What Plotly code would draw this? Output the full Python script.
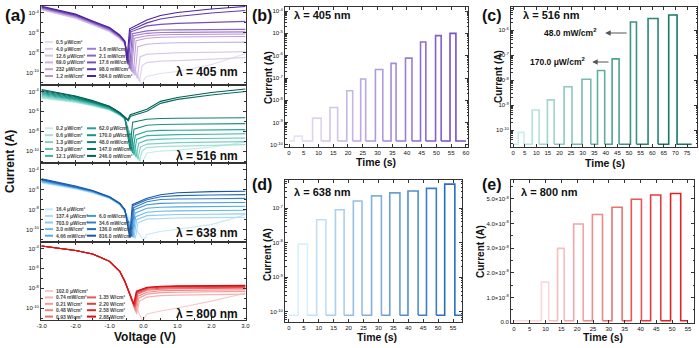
import plotly.graph_objects as go

FONT = "Liberation Sans, Arial, sans-serif"
W, H = 699, 348

# ================= DATA =================
# Panel (a): I-V curves, values are log10(|I| / A)
V_LEFT = [-3.0, -2.0, -1.5, -1.0, -0.7, -0.55]
V_RIGHT = [0.1, 0.5, 1.0, 2.0, 3.0]

labels_405 = ["0.5 μW/cm²", "4.0 μW/cm²", "12.6 μW/cm²", "69.0 μW/cm²", "232 μW/cm²", "1.2 mW/cm²",
              "1.6 mW/cm²", "2.1 mW/cm²", "17.6 mW/cm²", "98.0 mW/cm²", "584.0 mW/cm²"]
left_405 = [[-3.70, -4.55, -5.20, -5.90, -6.60, -7.15],
            [-3.68, -4.52, -5.18, -5.88, -6.58, -7.12],
            [-3.66, -4.50, -5.15, -5.85, -6.55, -7.10],
            [-3.62, -4.45, -5.10, -5.80, -6.50, -7.05],
            [-3.55, -4.38, -5.05, -5.72, -6.45, -7.00],
            [-3.52, -4.35, -5.02, -5.70, -6.42, -6.98],
            [-3.50, -4.32, -5.00, -5.68, -6.40, -6.96],
            [-3.48, -4.30, -4.97, -5.65, -6.38, -6.94],
            [-3.42, -4.22, -4.90, -5.58, -6.32, -6.90],
            [-3.38, -4.18, -4.86, -5.52, -6.28, -6.87],
            [-3.33, -4.12, -4.80, -5.47, -6.22, -6.83]]
dipv_405 = [-0.05, -0.12, -0.18, -0.25, -0.30, -0.35, -0.38, -0.41, -0.45, -0.47, -0.49]
dipi_405 = [-11.2, -10.9, -10.6, -10.3, -10.1, -9.9, -9.7, -9.5, -9.2, -9.0, -8.8]
kneev_405 = [0.05, -0.04, -0.10, -0.17, -0.22, -0.27, -0.30, -0.33, -0.37, -0.39, -0.41]
kneei_405 = [-10.5, -9.3, -8.4, -7.4, -6.8, -6.55, -6.3, -6.1, -5.9, -5.75, -5.6]
right_405 = [[-10.4, -10.1, -9.9, -9.2, -8.1],
             [-9.0, -8.85, -8.8, -8.65, -8.5],
             [-8.15, -8.05, -8.0, -7.95, -7.9],
             [-7.15, -7.05, -7.0, -6.97, -6.94],
             [-6.55, -6.45, -6.42, -6.40, -6.37],
             [-6.3, -6.2, -6.17, -6.15, -6.12],
             [-6.05, -5.97, -5.95, -5.92, -5.9],
             [-5.8, -5.72, -5.7, -5.68, -5.65],
             [-5.3, -5.15, -5.05, -4.95, -4.85],
             [-5.0, -4.6, -4.35, -4.0, -3.75],
             [-4.7, -4.25, -3.95, -3.6, -3.35]]

labels_516 = ["0.2 μW/cm²", "0.6 μW/cm²", "1.3 μW/cm²", "3.3 μW/cm²", "12.1 μW/cm²",
              "62.0 μW/cm²", "170.0 μW/cm²", "48.0 mW/cm²", "147.0 mW/cm²", "246.0 mW/cm²"]
left_516 = [[-4.70, -5.10, -5.45, -5.90, -6.40, -6.78],
            [-4.60, -5.05, -5.40, -5.85, -6.38, -6.76],
            [-4.50, -4.98, -5.35, -5.82, -6.35, -6.74],
            [-4.40, -4.90, -5.30, -5.78, -6.32, -6.72],
            [-4.30, -4.82, -5.22, -5.72, -6.30, -6.70],
            [-4.20, -4.75, -5.15, -5.68, -6.27, -6.68],
            [-4.10, -4.68, -5.10, -5.62, -6.24, -6.66],
            [-4.00, -4.60, -5.05, -5.58, -6.20, -6.64],
            [-3.90, -4.52, -4.98, -5.52, -6.16, -6.62],
            [-3.80, -4.45, -4.92, -5.48, -6.12, -6.60]]
dipv_516 = [-0.06, -0.12, -0.17, -0.22, -0.28, -0.32, -0.36, -0.40, -0.45, -0.46]
dipi_516 = [-11.3, -11.0, -10.8, -10.6, -10.4, -10.2, -10.0, -9.8, -6.95, -6.85]
kneev_516 = [0.03, -0.04, -0.09, -0.14, -0.20, -0.24, -0.28, -0.32, -0.38, -0.39]
kneei_516 = [-10.6, -10.0, -9.6, -9.2, -8.8, -8.4, -7.8, -7.1, -6.5, -6.35]
right_516 = [[-10.2, -10.0, -9.9, -9.6, -9.1],
             [-9.65, -9.55, -9.5, -9.45, -9.35],
             [-9.3, -9.2, -9.15, -9.1, -9.05],
             [-8.9, -8.8, -8.76, -8.72, -8.68],
             [-8.45, -8.37, -8.34, -8.3, -8.26],
             [-8.0, -7.92, -7.9, -7.87, -7.84],
             [-7.4, -7.32, -7.3, -7.27, -7.24],
             [-6.8, -6.72, -6.7, -6.67, -6.64],
             [-6.0, -5.2, -4.8, -4.35, -4.0],
             [-5.8, -5.0, -4.6, -4.1, -3.75]]

labels_638 = ["16.4 μW/cm²", "137.4 μW/cm²", "703.0 μW/cm²", "3.0 mW/cm²", "4.66 mW/cm²",
              "6.0 mW/cm²", "34.6 mW/cm²", "136.0 mW/cm²", "816.0 mW/cm²"]
left_638 = [[-5.30, -5.92, -6.32, -6.88, -7.50, -8.15],
            [-5.25, -5.88, -6.28, -6.85, -7.48, -8.13],
            [-5.20, -5.84, -6.25, -6.82, -7.46, -8.11],
            [-5.15, -5.80, -6.22, -6.80, -7.44, -8.09],
            [-5.10, -5.76, -6.18, -6.78, -7.42, -8.07],
            [-5.05, -5.73, -6.15, -6.76, -7.40, -8.05],
            [-5.00, -5.70, -6.12, -6.74, -7.38, -8.03],
            [-4.95, -5.66, -6.09, -6.72, -7.36, -8.01],
            [-4.90, -5.62, -6.06, -6.70, -7.34, -7.99]]
dipv_638 = [0.0, -0.24, -0.28, -0.31, -0.33, -0.35, -0.37, -0.39, -0.41]
dipi_638 = [-11.1, -10.9, -10.8, -10.8, -10.7, -10.7, -10.7, -10.8, -10.8]
kneev_638 = [0.07, -0.16, -0.20, -0.23, -0.25, -0.27, -0.29, -0.31, -0.33]
kneei_638 = [-10.7, -9.3, -9.0, -8.7, -8.35, -8.0, -7.8, -7.6, -7.5]
right_638 = [[-10.5, -10.2, -9.95, -9.5, -8.5],
             [-8.95, -8.87, -8.84, -8.8, -8.76],
             [-8.6, -8.52, -8.49, -8.46, -8.42],
             [-8.25, -8.15, -8.12, -8.1, -8.06],
             [-7.85, -7.75, -7.72, -7.7, -7.66],
             [-7.5, -7.36, -7.33, -7.3, -7.27],
             [-7.2, -6.98, -6.92, -6.9, -6.86],
             [-7.0, -6.7, -6.58, -6.52, -6.48],
             [-6.85, -6.5, -6.3, -6.18, -6.14]]

labels_800 = ["102.0 μW/cm²", "0.74 mW/cm²", "0.21 W/cm²", "0.48 W/cm²", "0.93 W/cm²",
              "1.35 W/cm²", "2.20 W/cm²", "2.58 W/cm²", "2.88 W/cm²"]
left_800 = [-3.75, -4.20, -4.55, -5.30, -6.30, -7.30]   # all 800 nm curves overlap here
dipv_800 = [-0.03, -0.20, -0.22, -0.24, -0.25, -0.26, -0.27, -0.28, -0.29]
dipi_800 = [-11.3, -10.6, -10.4, -10.2, -10.0, -9.9, -9.8, -9.7, -9.6]
kneev_800 = [0.05, -0.12, -0.14, -0.16, -0.17, -0.18, -0.19, -0.20, -0.21]
kneei_800 = [-10.8, -9.3, -9.0, -8.8, -8.6, -8.5, -8.4, -8.35, -8.3]
right_800 = [[-10.6, -10.3, -10.0, -9.3, -8.5],
             [-8.9, -8.75, -8.7, -8.65, -8.6],
             [-8.6, -8.45, -8.4, -8.36, -8.32],
             [-8.4, -8.26, -8.22, -8.18, -8.15],
             [-8.2, -8.1, -8.06, -8.03, -8.0],
             [-8.1, -8.0, -7.97, -7.94, -7.92],
             [-8.0, -7.9, -7.87, -7.85, -7.83],
             [-7.95, -7.85, -7.82, -7.8, -7.78],
             [-7.9, -7.8, -7.77, -7.75, -7.72]]

# Panels (b)-(e): on/off photoresponse (time in s, current in A)
on_b = [1.8, 8.0, 13.9, 19.6, 24.3, 29.3, 34.6, 39.5, 44.6, 49.7, 54.6]
off_b = [4.5, 10.9, 16.5, 21.6, 26.0, 31.8, 36.3, 41.7, 46.4, 51.6, 56.6]
peak_b = [2.5e-10, 1.6e-9, 4.8e-9, 2.7e-8, 9e-8, 2.4e-7, 4.5e-7, 7.8e-7, 4.1e-6, 7.9e-6, 1.0e-5]
base_b, t0_b, t1_b = 1.5e-10, 0.0, 60.0

on_c = [2.2, 8.2, 14.8, 22.0, 29.7, 36.4, 42.7, 50.6, 58.2, 67.1]
off_c = [4.7, 11.2, 17.7, 25.4, 33.5, 39.5, 45.7, 53.2, 62.5, 70.7]
peak_c = [8e-11, 6.3e-10, 1.6e-9, 5.4e-9, 1.07e-8, 2.4e-8, 7e-8, 2.1e-6, 2.9e-6, 4.0e-6]
base_c, t0_c, t1_c = 2.7e-11, 0.0, 77.0

on_d = [3.1, 9.3, 15.6, 21.6, 27.7, 33.8, 39.9, 46.1, 52.2]
off_d = [6.2, 12.4, 18.5, 24.5, 31.0, 37.2, 43.3, 49.4, 55.6]
peak_d = [9.1e-9, 4.6e-8, 8.9e-8, 1.6e-7, 2.25e-7, 2.75e-7, 3.1e-7, 3.7e-7, 4.9e-7]
base_d, t0_d, t1_d = 8e-11, 0.0, 58.5

on_e = [8.7, 13.8, 18.9, 24.8, 31.0, 37.1, 43.2, 49.5]
off_e = [11.0, 15.9, 21.9, 28.0, 34.2, 40.3, 46.4, 52.7]
peak_e = [1.62e-8, 2.99e-8, 3.98e-8, 4.37e-8, 4.66e-8, 4.99e-8, 5.16e-8, 5.22e-8]
base_e, t0_e, t1_e = 0.05e-8, 0.0, 55.0

# ================= STYLE =================
def grad(stops, n):
    out = []
    for i in range(n):
        f = i / (n - 1) * (len(stops) - 1)
        k = min(int(f), len(stops) - 2)
        r = f - k
        c = [round(stops[k][j] + (stops[k + 1][j] - stops[k][j]) * r) for j in range(3)]
        out.append("rgb(%d,%d,%d)" % tuple(c))
    return out

col_405 = grad([(228, 222, 242), (185, 145, 215), (75, 35, 160)], len(labels_405))
col_516 = grad([(195, 238, 232), (40, 170, 155), (0, 95, 85)], len(labels_516))
col_638 = grad([(200, 232, 250), (80, 170, 230), (25, 85, 170)], len(labels_638))
col_800 = grad([(250, 200, 200), (238, 110, 110), (215, 15, 20)], len(labels_800))
col_b = grad([(232, 226, 246), (120, 80, 200)], len(on_b))
col_c = grad([(200, 240, 235), (20, 120, 105)], len(on_c))
col_d = grad([(215, 240, 252), (40, 110, 190)], len(on_d))
col_e = grad([(252, 215, 215), (225, 35, 35)], len(on_e))


def px_dom_x(a, b):
    return [a / W, b / W]


def px_dom_y(top, bottom):
    return [1 - bottom / H, 1 - top / H]


fig = go.Figure()

# ---- panel (a) curves ----
A_TOP = [6 + 78.5 * k for k in range(4)]
panels_a = [
    (labels_405, left_405, dipv_405, dipi_405, kneev_405, kneei_405, right_405, col_405),
    (labels_516, left_516, dipv_516, dipi_516, kneev_516, kneei_516, right_516, col_516),
    (labels_638, left_638, dipv_638, dipi_638, kneev_638, kneei_638, right_638, col_638),
    (labels_800, [left_800] * len(labels_800), dipv_800, dipi_800, kneev_800, kneei_800, right_800, col_800),
]
for p, (labs, lefts, dv, di, kv, ki, rights, cols) in enumerate(panels_a):
    ax = "" if p == 0 else str(p + 1)
    for i in range(len(labs)):
        xs = V_LEFT + [dv[i], kv[i]] + V_RIGHT
        ys = [10 ** v for v in lefts[i] + [di[i], ki[i]] + rights[i]]
        fig.add_trace(go.Scatter(x=xs, y=ys, mode="lines", line=dict(color=cols[i], width=1.1),
                                 xaxis="x" + ax, yaxis="y" + ax, showlegend=False, hoverinfo="skip"))


# ---- panels (b)-(e) photoresponse ----
def add_pulses(on, off, peak, base, t0, t1, cols, axn):
    prev = t0
    for i in range(len(on)):
        xs = [prev, on[i], on[i], off[i], off[i]]
        ys = [base, base, peak[i], peak[i], base]
        if i == len(on) - 1:
            xs.append(t1)
            ys.append(base)
        fig.add_trace(go.Scatter(x=xs, y=ys, mode="lines", line=dict(color=cols[i], width=1.6),
                                 xaxis="x" + axn, yaxis="y" + axn, showlegend=False, hoverinfo="skip"))
        prev = off[i]


add_pulses(on_b, off_b, peak_b, base_b, t0_b, t1_b, col_b, "5")
add_pulses(on_c, off_c, peak_c, base_c, t0_c, t1_c, col_c, "6")
add_pulses(on_d, off_d, peak_d, base_d, t0_d, t1_d, col_d, "7")
add_pulses(on_e, off_e, peak_e, base_e, t0_e, t1_e, col_e, "8")

# ================= AXES =================
TICKFONT = dict(family=FONT, size=6, color="#111")


def base_axis(**kw):
    d = dict(showline=True, linecolor="#333", linewidth=1, mirror="ticks", ticks="inside",
             ticklen=3, tickwidth=0.8, tickcolor="#333", tickfont=TICKFONT, showgrid=False,
             zeroline=False, fixedrange=True)
    d.update(kw)
    return d


def sup(e):
    return "10<sup>%d</sup>" % e


layout_axes = {}
for p in range(4):
    ax = "" if p == 0 else str(p + 1)
    top = A_TOP[p]
    layout_axes["xaxis" + ax] = base_axis(
        domain=px_dom_x(41, 246), range=[-3.02, 3.02], anchor="y" + ax,
        tickvals=[-3, -2, -1, 0, 1, 2, 3], ticktext=["-3.0", "-2.0", "-1.0", "0.0", "1.0", "2.0", "3.0"],
        showticklabels=(p == 3),
        minor=dict(ticks="inside", ticklen=2, tickcolor="#333", tickvals=[-2.5, -1.5, -0.5, 0.5, 1.5, 2.5]))
    layout_axes["yaxis" + ax] = base_axis(
        domain=px_dom_y(top, top + 78.5), type="log", range=[-11.2, -3.3], anchor="x" + ax,
        tickvals=[1e-10, 1e-8, 1e-6, 1e-4], ticktext=[sup(-10), sup(-8), sup(-6), sup(-4)],
        minor=dict(ticks="inside", ticklen=2, tickcolor="#333", tickvals=[1e-11, 1e-9, 1e-7, 1e-5]))


def log_minor(lo, hi):
    vals = []
    for e in range(lo, hi):
        for m in range(2, 10):
            vals.append(m * 10 ** e)
    return vals


layout_axes["xaxis5"] = base_axis(domain=px_dom_x(285, 468), range=[-1.36, 60.7], anchor="y5",
                                  tickvals=list(range(0, 61, 5)))
layout_axes["yaxis5"] = base_axis(domain=px_dom_y(7, 147), type="log", range=[-10.09, -3.82], anchor="x5",
                                  tickvals=[10 ** e for e in range(-10, -3)], ticktext=[sup(e) for e in range(-10, -3)],
                                  minor=dict(ticks="inside", ticklen=1.5, tickcolor="#333", tickvals=log_minor(-10, -4)))
layout_axes["xaxis6"] = base_axis(domain=px_dom_x(511, 697), range=[-0.9, 79.3], anchor="y6",
                                  tickvals=list(range(0, 76, 5)))
layout_axes["yaxis6"] = base_axis(domain=px_dom_y(7, 147), type="log", range=[-10.68, -5.08], anchor="x6",
                                  tickvals=[10 ** e for e in range(-10, -5)], ticktext=[sup(e) for e in range(-10, -5)],
                                  minor=dict(ticks="inside", ticklen=1.5, tickcolor="#333", tickvals=log_minor(-11, -5)))
layout_axes["xaxis7"] = base_axis(domain=px_dom_x(285, 462), range=[-1.3, 58.0], anchor="y7",
                                  tickvals=list(range(0, 56, 5)))
layout_axes["yaxis7"] = base_axis(domain=px_dom_y(180, 322), type="log", range=[-10.29, -6.19], anchor="x7",
                                  tickvals=[10 ** e for e in range(-10, -6)], ticktext=[sup(e) for e in range(-10, -6)],
                                  minor=dict(ticks="inside", ticklen=1.5, tickcolor="#333", tickvals=log_minor(-11, -6)))
layout_axes["xaxis8"] = base_axis(domain=px_dom_x(511, 694), range=[-0.9, 56.9], anchor="y8",
                                  tickvals=list(range(0, 56, 5)))
layout_axes["yaxis8"] = base_axis(domain=px_dom_y(180, 323), range=[-0.04e-8, 5.77e-8], anchor="x8",
                                  tickvals=[k * 1e-8 for k in range(6)],
                                  ticktext=["0.0"] + ["%d.0×10<sup>-8</sup>" % k for k in range(1, 6)],
                                  minor=dict(ticks="inside", ticklen=1.5, tickcolor="#333",
                                             tickvals=[(k + 0.5) * 1e-8 for k in range(6)]))

# ================= ANNOTATIONS =================
ann = []
shapes = []


def text(x, y, s, size, xanchor="center", yanchor="middle", angle=0, bold=True, color="#111"):
    ann.append(dict(x=x / W, y=1 - y / H, xref="paper", yref="paper", text=("<b>%s</b>" % s) if bold else s,
                    showarrow=False, xanchor=xanchor, yanchor=yanchor, textangle=angle, borderpad=0,
                    font=dict(family=FONT, size=size, color=color)))


text(4, 15, "(a)", 17, xanchor="left")
text(251, 15, "(b)", 16, xanchor="left")
text(481, 15, "(c)", 16, xanchor="left")
text(251, 184, "(d)", 16, xanchor="left")
text(481, 184, "(e)", 16, xanchor="left")

lam_y = [72, 156, 233, 314]
for p, lam in enumerate(["405", "516", "638", "800"]):
    text(239, lam_y[p], "λ = %s nm" % lam, 12, xanchor="right")
text(293, 15, "λ = 405 nm", 11, xanchor="left")
text(522, 15, "λ = 516 nm", 11, xanchor="left")
text(293, 192, "λ = 638 nm", 11, xanchor="left")
text(520, 192, "λ = 800 nm", 11, xanchor="left")

text(10, 162, "Current (A)", 12, angle=-90)
text(145, 337, "Voltage (V)", 12)
for (x, y) in [(268, 78), (498, 77), (267, 255), (480, 252)]:
    text(x, y, "Current (A)", 10, angle=-90)
text(376, 162, "Time (s)", 10.5)
text(605, 163, "Time (s)", 10.5)
text(377, 337, "Time (s)", 10.5)
text(603, 337, "Time (s)", 10.5)

# legends in (a)
leg_cfg = [  # (labels, colors, n_left, first row offset, row spacing)
    (labels_405, col_405, 6, 36.0, 6.8),
    (labels_516, col_516, 5, 43.8, 6.9),
    (labels_638, col_638, 5, 46.3, 6.6),
    (labels_800, col_800, 5, 49.5, 6.4),
]
for p, (labs, cols, nl, f, s) in enumerate(leg_cfg):
    top = A_TOP[p]
    n = len(labs)
    nr = n - nl
    for i in range(n):
        if i < nl:
            row, x0, x1, xt = i, 45, 53, 55
        else:
            row, x0, x1, xt = nl - nr + (i - nl), 87, 96, 98
        y = top + f + row * s
        shapes.append(dict(type="line", xref="paper", yref="paper", x0=x0 / W, x1=x1 / W,
                           y0=1 - y / H, y1=1 - y / H, line=dict(color=cols[i], width=2)))
        text(xt, y, labs[i], 5, xanchor="left", bold=True, color="#444")

# arrows + labels in (c)
ann.append(dict(x=39.7, y=-6.12, ax=49.6, ay=-6.12, xref="x6", yref="y6", axref="x6", ayref="y6",
                text="", showarrow=True, arrowhead=2, arrowsize=1, arrowwidth=1.1, arrowcolor="#555"))
ann.append(dict(x=34.1, y=-7.28, ax=41.8, ay=-7.28, xref="x6", yref="y6", axref="x6", ayref="y6",
                text="", showarrow=True, arrowhead=2, arrowsize=1, arrowwidth=1.1, arrowcolor="#555"))
ann.append(dict(x=37.0, y=-6.12, xref="x6", yref="y6", text="<b>48.0 mW/cm<sup>2</sup></b>", showarrow=False,
                xanchor="right", yanchor="middle", font=dict(family=FONT, size=8.5, color="#111")))
ann.append(dict(x=32.5, y=-7.28, xref="x6", yref="y6", text="<b>170.0 μW/cm<sup>2</sup></b>", showarrow=False,
                xanchor="right", yanchor="middle", font=dict(family=FONT, size=8.5, color="#111")))

fig.update_layout(width=W, height=H, margin=dict(l=0, r=0, t=0, b=0), template="none",
                  paper_bgcolor="white", plot_bgcolor="white", showlegend=False,
                  annotations=ann, shapes=shapes, **layout_axes)

fig.write_html("out.html", config={"displayModeBar": False},
               post_script="document.body.style.margin='0';document.body.style.overflow='hidden';")
